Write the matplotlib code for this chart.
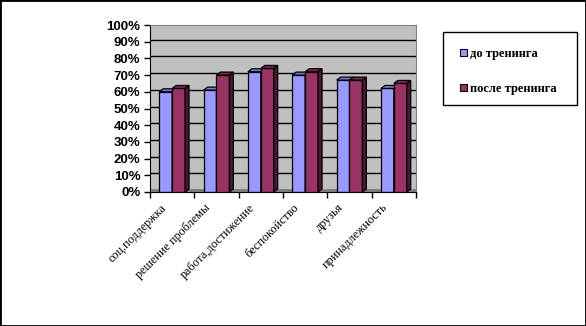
import matplotlib
matplotlib.use("Agg")
import matplotlib.pyplot as plt
from matplotlib.patches import Polygon, Rectangle
from matplotlib.ticker import FuncFormatter, FixedLocator
from matplotlib.transforms import ScaledTranslation
import numpy as np

categories = ["соц.поддержка", "решение проблемы", "работа,достижение",
              "беспокойство", "друзья", "принадлежность"]
before = [0.60, 0.61, 0.72, 0.70, 0.67, 0.62]
after = [0.62, 0.70, 0.74, 0.72, 0.67, 0.65]
series_names = ["до тренинга", "после тренинга"]
colors = ["#9999FF", "#993366"]
side_colors = ["#5C5CA8", "#4A1832"]
top_colors = ["#7878D0", "#7A2850"]

W, H = 586, 326
fig = plt.figure(figsize=(W / 100, H / 100), dpi=100)
ax_l, ax_r, ax_t, ax_b = 150, 416, 25, 192
ax = fig.add_axes([ax_l / W, (H - ax_b) / H, (ax_r - ax_l) / W, (ax_b - ax_t) / H])
ax.set_facecolor("#C0C0C0")

n = len(categories)
x = np.arange(n)
bw = 0.29
ax.set_xlim(-0.5, n - 0.5)
ax.set_ylim(0, 1.0)

# pixel -> data conversion for 3D depth
px_x = n / (ax_r - ax_l)
px_y = 1.0 / (ax_b - ax_t)
ddx, ddy = 4 * px_x, 3 * px_y

for yv in np.arange(0.1, 1.01, 0.1):
    ax.plot([-0.5, n - 0.5], [yv + 2 * px_y, yv + 2 * px_y], color="black", lw=1.0, zorder=1)

for k, (vals, off) in enumerate([(before, -bw / 2), (after, bw / 2)]):
    z = 2 + k
    bars = ax.bar(x + off, vals, width=bw, color=colors[k], edgecolor="black",
                  linewidth=0.9, zorder=z, label=series_names[k])
    for b in bars:
        x0 = b.get_x()
        x1 = x0 + b.get_width()
        h = b.get_height()
        side = Polygon([(x1, 0), (x1, h), (x1 + ddx, h + ddy), (x1 + ddx, ddy)],
                       closed=True, facecolor=side_colors[k], edgecolor="black",
                       linewidth=0.9, zorder=z)
        top = Polygon([(x0, h), (x1, h), (x1 + ddx, h + ddy), (x0 + ddx, h + ddy)],
                      closed=True, facecolor=top_colors[k], edgecolor="black",
                      linewidth=0.9, zorder=z)
        ax.add_patch(side)
        ax.add_patch(top)

# floor strip
ax.add_patch(Rectangle((-0.5, 0), n, ddy, facecolor="#808080", edgecolor="none", zorder=1.5))

ax.yaxis.set_major_locator(FixedLocator(np.arange(0, 1.01, 0.1)))
ax.yaxis.set_major_formatter(FuncFormatter(lambda v, p: f"{int(round(v * 100))}%"))
ax.tick_params(axis="y", direction="out", length=4, width=1, pad=3, labelsize=9.5)
for t in ax.yaxis.get_ticklabels():
    t.set_fontweight("bold")
    t.set_fontfamily("Liberation Sans")

ax.set_xticks(x)
ax.set_xticks(np.arange(-0.5, n, 1.0), minor=True)
ax.tick_params(axis="x", which="major", length=0, pad=7)
ax.tick_params(axis="x", which="minor", direction="out", length=4, width=1)
ax.set_xticklabels(categories, rotation=45, ha="right", va="top",
                   rotation_mode="anchor", fontsize=8.7, family="Liberation Serif")
shift = ScaledTranslation(-12 / 100, 0, fig.dpi_scale_trans)
for t in ax.get_xticklabels():
    t.set_transform(t.get_transform() + shift)

for s in ["top", "right"]:
    ax.spines[s].set_color("#808080")
ax.spines["left"].set_color("black")
ax.spines["bottom"].set_color("black")

# legend box
fig.patches.append(Rectangle((442.5 / W, 1 - 105 / H), (577 - 442.5) / W, (105 - 32.5) / H,
                             transform=fig.transFigure, fill=False,
                             edgecolor="black", linewidth=1.0))
leg = fig.legend(loc="upper left", bbox_to_anchor=(460 / W, 1 - 48 / H),
                 prop={"family": "Liberation Serif", "weight": "bold", "size": 9},
                 frameon=False, handlelength=0.55, handleheight=0.55, handletextpad=0.25,
                 labelspacing=1.85, borderpad=0, borderaxespad=0)
for hnd in leg.legend_handles:
    hnd.set_edgecolor("black")
    hnd.set_linewidth(0.8)

fig.patches.append(Rectangle((0, 0), 1, 1, transform=fig.transFigure, fill=False,
                             edgecolor="black", linewidth=2.0))

fig.savefig("out.png", dpi=100)
